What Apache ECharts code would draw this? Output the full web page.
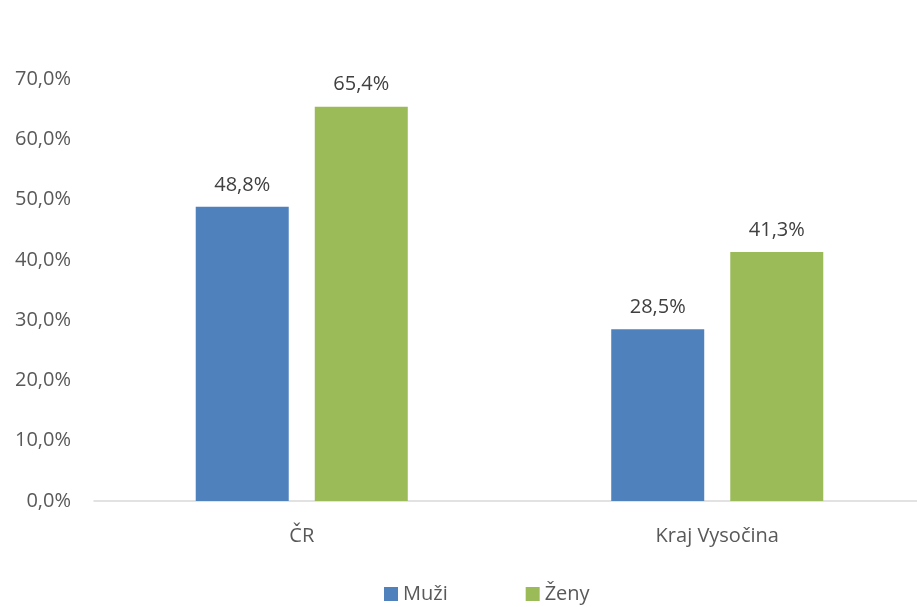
<!DOCTYPE html>
<html>
<head>
<meta charset="utf-8">
<script src="https://cdn.jsdelivr.net/npm/echarts@6/dist/echarts.min.js"></script>
<style>
  html, body { margin: 0; padding: 0; background: #fff; overflow: hidden; }
  #chart { width: 925px; height: 607px; }
</style>
</head>
<body>
<div id="chart"></div>
<script>
// kategorie a hodnoty (%)
var categories = ['ČR', 'Kraj Vysočina']
var muzi = [48.8, 28.5]
var zeny = [65.4, 41.3]

var fmt = function(v) {
  return v.toFixed(1).replace('.', ',') + '%'
}

var myChart = echarts.init(document.getElementById('chart'))
var font = '"Open Sans", "Noto Sans", sans-serif'

var option = {
  backgroundColor: '#fff',
  textStyle: { fontFamily: font },
  grid: {
    left: 94,
    right: 0,
    top: 79,
    bottom: 106,
    containLabel: false
  },
  legend: {
    data: ['Muži', 'Ženy'],
    top: 579,
    left: 379,
    itemWidth: 14,
    itemHeight: 14,
    itemGap: 78,
    icon: 'rect',
    textStyle: { color: '#595959', fontSize: 20, fontFamily: font }
  },
  xAxis: {
    type: 'category',
    data: categories,
    axisTick: { show: false },
    axisLine: { lineStyle: { color: '#d9d9d9', width: 1.5 } },
    axisLabel: { color: '#595959', fontSize: 20, margin: 25, fontFamily: font }
  },
  yAxis: {
    type: 'value',
    min: 0,
    max: 70,
    interval: 10,
    splitLine: { show: false },
    axisLine: { show: false },
    axisTick: { show: false },
    axisLabel: {
      color: '#595959',
      fontSize: 20,
      margin: 23,
      fontFamily: font,
      formatter: function(v) { return fmt(v) }
    }
  },
  series: [
    {
      name: 'Muži',
      type: 'bar',
      data: muzi,
      barWidth: 93,
      barGap: '28%',
      itemStyle: { color: '#4f81bd' },
      label: {
        show: true,
        position: 'top',
        distance: 12,
        color: '#404040',
        fontSize: 20,
        fontFamily: font,
        formatter: function(p) { return fmt(p.value) }
      }
    },
    {
      name: 'Ženy',
      type: 'bar',
      data: zeny,
      barWidth: 93,
      itemStyle: { color: '#9bbb59' },
      label: {
        show: true,
        position: 'top',
        distance: 12,
        color: '#404040',
        fontSize: 20,
        fontFamily: font,
        formatter: function(p) { return fmt(p.value) }
      }
    }
  ]
}

myChart.setOption(option)
</script>
</body>
</html>
